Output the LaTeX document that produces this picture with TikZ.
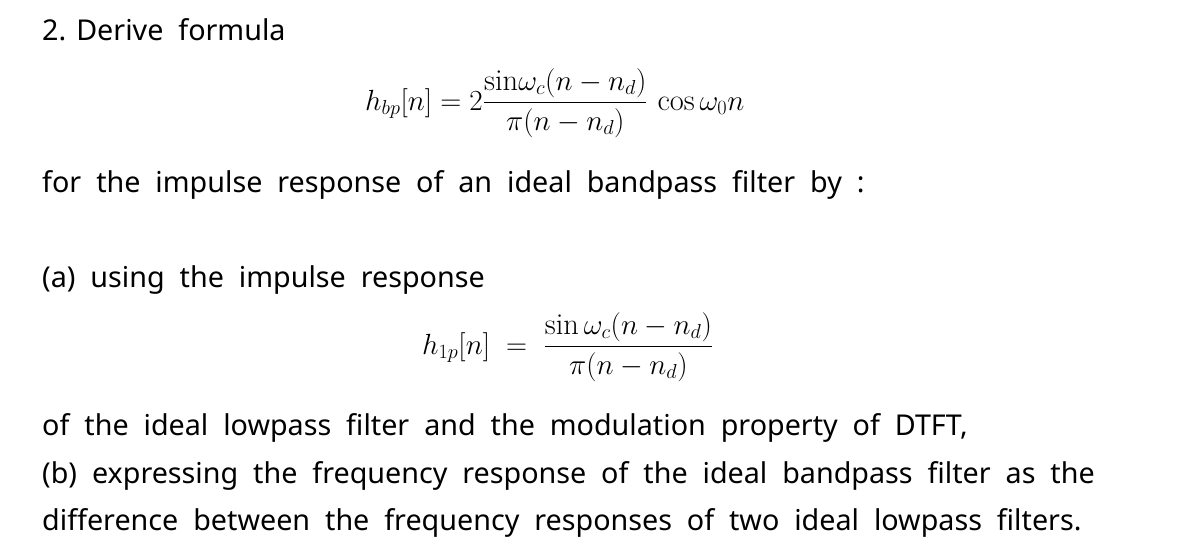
\documentclass[tikz,border=0pt]{standalone}
\usepackage{amsmath}
\usepackage{fontspec}
\setmainfont{Noto Sans}
\setmathrm{Latin Modern Roman}
\begin{document}
\begin{tikzpicture}[x=0.03cm,y=-0.03cm,
  txt/.style={anchor=base west,inner sep=0pt,font=\fontsize{24.5}{28}\selectfont},
  eq/.style={inner sep=0pt,font=\fontsize{26}{30}\selectfont}]
\useasboundingbox (0,0) rectangle (1179,554);
\node[txt] (l1) at (42,40) {2. Derive\ \ formula};
\node[eq,anchor=west] (f1) at (365,103) {$h_{bp}[n]=2\dfrac{\sin\!\omega_c(n-n_d)}{\pi(n-n_d)}\,\cos\omega_0 n$};
\node[txt] (l2) at (42,192) {for\ \ the\ \ impulse\ \ response\ \ of\ \ an\ \ ideal\ \ bandpass\ \ filter\ \ by\ \ :};
\node[txt] (l3) at (42,287) {(a)\ \ using\ \ the\ \ impulse\ \ response};
\node[eq,anchor=west] (f2) at (422,347) {$h_{1p}[n]\;=\;\dfrac{\sin\omega_c(n-n_d)}{\pi(n-n_d)}$};
\node[txt] (l4) at (42,435) {of\ \ the\ \ ideal\ \ lowpass\ \ filter\ \ and\ \ the\ \ modulation\ \ property\ \ of\ \ DTFT,};
\node[txt] (l5) at (42,483) {(b)\ \ expressing\ \ the\ \ frequency\ \ response\ \ of\ \ the\ \ ideal\ \ bandpass\ \ filter\ \ as\ \ the};
\node[txt] (l6) at (42,530) {difference\ \ between\ \ the\ \ frequency\ \ responses\ \ of\ \ two\ \ ideal\ \ lowpass\ \ filters.};
\end{tikzpicture}
\end{document}
